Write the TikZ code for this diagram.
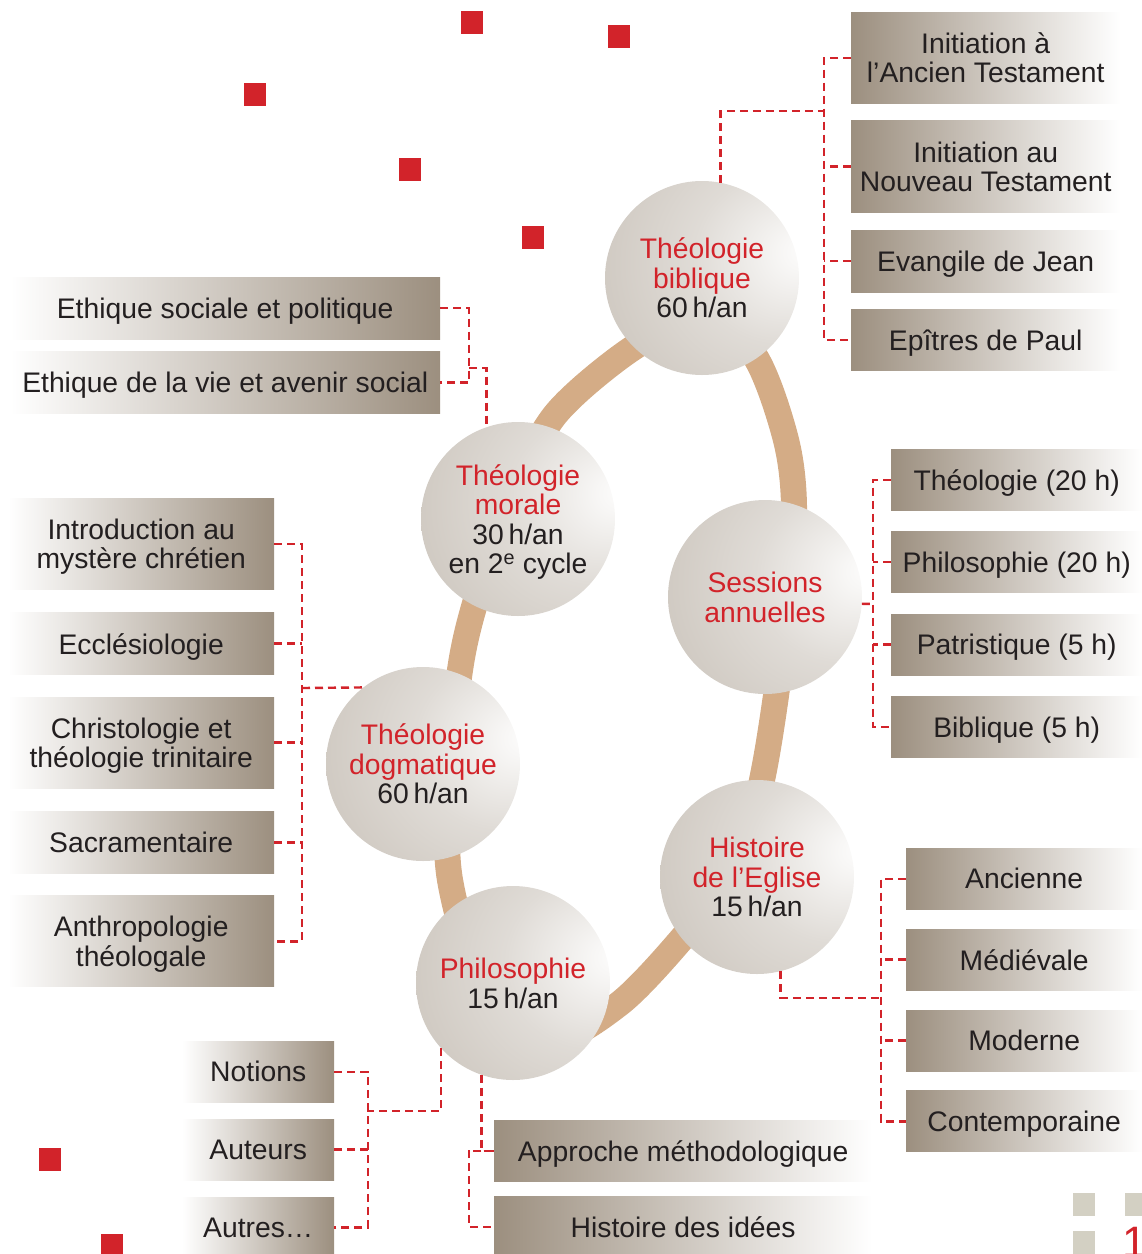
\documentclass[tikz,border=0pt]{standalone}
\usepackage{fontspec}
\setmainfont{Liberation Sans}
\usepackage{xcolor}
\usetikzlibrary{positioning, calc}
\definecolor{ringtan}{HTML}{D4AC86}
\definecolor{linkred}{HTML}{D2232A}
\definecolor{boxdark}{HTML}{9C8F7F}
\definecolor{inkdark}{HTML}{231F20}
\definecolor{beige}{HTML}{D3D0C3}
\newcommand{\boxfont}{\fontsize{28.3}{29.5}\selectfont}
\newcommand{\redtxt}[1]{\textcolor{linkred}{#1}}
\pgfdeclareradialshading{sphere}{\pgfpoint{27bp}{7bp}}{%
    color(0bp)=(white!98!boxdark);
    color(5bp)=(white!92!boxdark);
    color(22bp)=(white!68!boxdark);
    color(45bp)=(white!48!boxdark);
    color(65bp)=(white!22!boxdark);
    color(80bp)=(white!5!boxdark)}
\tikzset{
    ball/.style={
        circle,
        minimum size=194pt,
        inner sep=0pt,
        shading=sphere,
        align=center,
        font=\boxfont,
        text=inkdark,
        text depth=0pt,
    },
    boxr/.style={
        rectangle,
        inner sep=0pt,
        left color=boxdark,
        right color=white,
        align=center,
        font=\boxfont,
        text=inkdark,
        text depth=0pt,
    },
    boxl/.style={
        rectangle,
        inner sep=0pt,
        left color=white,
        right color=boxdark,
        align=center,
        font=\boxfont,
        text=inkdark,
        text depth=0pt,
    },
    link/.style={
        draw=linkred,
        line width=2.4pt,
        dash pattern=on 8pt off 5pt,
    },
    ring/.style={
        draw=ringtan,
        line width=26pt,
    },
}
\begin{document}
\begin{tikzpicture}[x=1pt,y=-1pt]
          \useasboundingbox (0,0) rectangle (1142,1254);
          \clip (0,0) rectangle (1142,1254);

          % red squares
          \fill[linkred] (461,11) rectangle (483,34);
          \fill[linkred] (608,25) rectangle (630,48);
          \fill[linkred] (244,83) rectangle (266,106);
          \fill[linkred] (399,158) rectangle (421,181);
          \fill[linkred] (522,226) rectangle (544,249);
          \fill[linkred] (39,1148) rectangle (61,1171);
          \fill[linkred] (101,1234) rectangle (123,1256);
          \fill[beige] (1073,1193) rectangle (1095,1216);
          \fill[beige] (1125,1193) rectangle (1147,1216);
          \fill[beige] (1073,1231) rectangle (1095,1256);
          \node[anchor=base west, inner sep=0pt, text=linkred, font=\fontsize{44}{44}\selectfont] (pagenum) at (1122,1257) {1};

          % ring
          \draw[ring] plot[smooth cycle] coordinates {(692,322) (752,352) (786,440) (794,520) (782,650) (764,770) (740,862) (685,935) (619,1004) (550,1038) (480,975) (450,880) (448,790) (460,670) (476,600) (510,500) (555,415) (630,350)};

          \node[ball] (biblique) at (702,278) {\redtxt{Théologie}\\\redtxt{biblique}\\60\,h/an};
          \node[ball] (morale) at (518,519) {\redtxt{Théologie}\\\redtxt{morale}\\30\,h/an\\en 2\textsuperscript{e} cycle};
          \node[ball] (sessions) at (765,597) {\redtxt{Sessions}\\\redtxt{annuelles}};
          \node[ball] (dogmatique) at (423,764) {\redtxt{Théologie}\\\redtxt{dogmatique}\\60\,h/an};
          \node[ball] (histoire) at (757,877) {\redtxt{Histoire}\\\redtxt{de l’Eglise}\\15\,h/an};
          \node[ball] (philo) at (513,983) {\redtxt{Philosophie}\\15\,h/an};

          % biblique
          \node[boxr, minimum width=269pt, minimum height=91pt, anchor=north west] (ancien) at (851,12) {Initiation à\\l’Ancien Testament};
          \node[boxr, minimum width=269pt, minimum height=92pt, below=17pt of ancien] (nouveau) {Initiation au\\Nouveau Testament};
          \node[boxr, minimum width=269pt, minimum height=62pt, below=17pt of nouveau] (jean) {Evangile de Jean};
          \node[boxr, minimum width=269pt, minimum height=61pt, below=17pt of jean] (paul) {Epîtres de Paul};
          \coordinate (busb) at (824,111);
          \draw[link] (biblique.79) |- (busb);
          \draw[link] (ancien.west) -| (busb) |- (paul.west);
          \draw[link] (nouveau.west) -- (nouveau.west -| busb);
          \draw[link] (jean.west) -- (jean.west -| busb);

          % morale
          \node[boxl, minimum width=430pt, minimum height=62pt, anchor=north west] (sociale) at (10,277) {Ethique sociale et politique};
          \node[boxl, minimum width=430pt, minimum height=62pt, below=12pt of sociale] (vie) {Ethique de la vie et avenir social};
          \coordinate (busm) at (469,368);
          \draw[link] (sociale.east) -| (busm) |- (vie.east);
          \draw[link] (busm) -| (morale.109);

          % dogmatique
          \node[boxl, minimum width=266pt, minimum height=91pt, anchor=north west] (intro) at (8,498) {Introduction au\\mystère chrétien};
          \node[boxl, minimum width=266pt, minimum height=62pt, below=23pt of intro] (eccl) {Ecclésiologie};
          \node[boxl, minimum width=266pt, minimum height=91pt, below=22pt of eccl] (christo) {Christologie et\\théologie trinitaire};
          \node[boxl, minimum width=266pt, minimum height=62pt, below=23pt of christo] (sacra) {Sacramentaire};
          \node[boxl, minimum width=266pt, minimum height=91pt, below=22pt of sacra] (anthro) {Anthropologie\\théologale};
          \coordinate (busd) at (302,688);
          \draw[link] (intro.east) -| (busd) |- (anthro.east);
          \draw[link] (eccl.east) -- (eccl.east -| busd);
          \draw[link] (christo.east) -- (christo.east -| busd);
          \draw[link] (sacra.east) -- (sacra.east -| busd);
          \draw[link] (busd) -- (dogmatique.128);

          % sessions
          \node[boxr, minimum width=251pt, minimum height=61pt, anchor=north west] (theo20) at (891,449) {Théologie (20 h)};
          \node[boxr, minimum width=251pt, minimum height=61pt, below=21pt of theo20] (philo20) {Philosophie (20 h)};
          \node[boxr, minimum width=251pt, minimum height=61pt, below=21pt of philo20] (patri) {Patristique (5 h)};
          \node[boxr, minimum width=251pt, minimum height=61pt, below=21pt of patri] (bibl5) {Biblique (5 h)};
          \coordinate (buss) at (873,604);
          \draw[link] (theo20.west) -| (buss) |- (bibl5.west);
          \draw[link] (philo20.west) -- (philo20.west -| buss);
          \draw[link] (patri.west) -- (patri.west -| buss);
          \draw[link] (sessions.-4) -- (buss);

          % histoire
          \node[boxr, minimum width=236pt, minimum height=61pt, anchor=north west] (ancienne) at (906,848) {Ancienne};
          \node[boxr, minimum width=236pt, minimum height=61pt, below=19.5pt of ancienne] (medievale) {Médiévale};
          \node[boxr, minimum width=236pt, minimum height=61pt, below=19.5pt of medievale] (moderne) {Moderne};
          \node[boxr, minimum width=236pt, minimum height=61pt, below=19.5pt of moderne] (contemp) {Contemporaine};
          \coordinate (bush) at (881,998);
          \draw[link] (histoire.-76) |- (bush);
          \draw[link] (ancienne.west) -| (bush) |- (contemp.west);
          \draw[link] (medievale.west) -- (medievale.west -| bush);
          \draw[link] (moderne.west) -- (moderne.west -| bush);

          % philosophie
          \node[boxl, minimum width=152pt, minimum height=61pt, anchor=north west] (notions) at (182,1041) {Notions};
          \node[boxl, minimum width=152pt, minimum height=61pt, below=16.5pt of notions] (auteurs) {Auteurs};
          \node[boxl, minimum width=152pt, minimum height=61pt, below=16.5pt of auteurs] (autres) {Autres…};
          \coordinate (busp) at (368,1111);
          \draw[link] (philo.-138) |- (busp);
          \draw[link] (notions.east) -| (busp) |- (autres.east);
          \draw[link] (auteurs.east) -- (auteurs.east -| busp);

          \node[boxr, minimum width=378pt, minimum height=61pt, anchor=north west] (approche) at (494,1120) {Approche méthodologique};
          \node[boxr, minimum width=378pt, minimum height=61pt, below=15pt of approche] (idees) {Histoire des idées};
          \coordinate (busq) at (469,1150);
          \draw[link] (philo.-109) |- (approche.west);
          \draw[link] (approche.west) -| (busq) |- (idees.west);
        \end{tikzpicture}
\end{document}
